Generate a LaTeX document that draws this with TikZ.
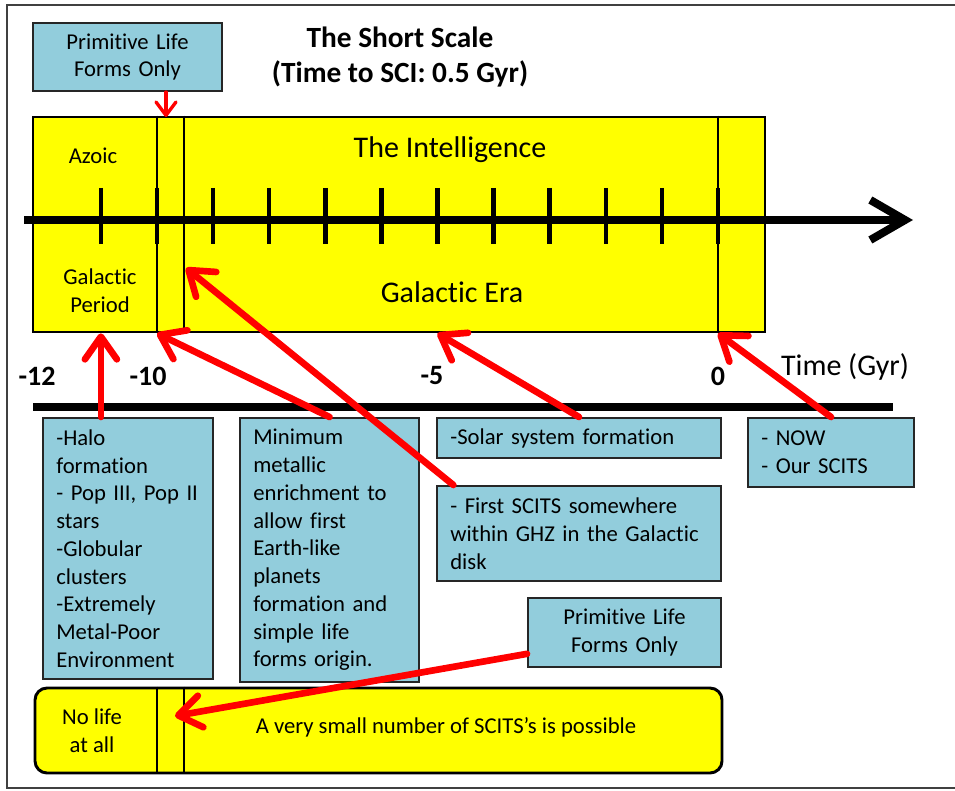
\documentclass[tikz,border=0pt]{standalone}
\usepackage{fontspec}
\setmainfont{Carlito}[Ligatures=NoCommon]
\usepackage{tikz}
\usetikzlibrary{arrows.meta, positioning}
\definecolor{infoblue}{RGB}{146,205,220}
\definecolor{erayellow}{RGB}{255,255,0}
\tikzset{
    frame/.style={
        draw=black!75,
        line width=1.5pt
    },
    era/.style={
        rectangle,
        draw=black,
        line width=2pt,
        fill=erayellow,
        inner sep=0pt
    },
    divider/.style={
        draw=black,
        line width=0.8pt
    },
    info/.style={
        rectangle,
        draw=black!85,
        line width=1.5pt,
        fill=infoblue,
        inner xsep=10pt,
        inner ysep=0pt,
        align=left,
        font=\fontsize{17}{20.8}\selectfont
    },
    axis/.style={
        draw=black,
        line width=6pt,
        -{Straight Barb[length=26pt, width=30pt]}
    },
    tickmark/.style={
        draw=black,
        line width=3.4pt
    },
    barline/.style={
        draw=black,
        line width=5.5pt
    },
    hint/.style={
        draw=red,
        line width=5pt,
        line cap=round,
        -{Straight Barb[length=17pt, width=24pt, round]}
    },
    titletext/.style={
        font=\fontsize{22}{26.4}\selectfont\bfseries,
        inner sep=0pt
    },
    bigtext/.style={
        font=\fontsize{22.5}{27}\selectfont,
        inner sep=0pt
    },
    smalltext/.style={
        font=\fontsize{17}{20.8}\selectfont,
        inner sep=0pt
    },
    ticktext/.style={
        font=\fontsize{21}{25}\selectfont\bfseries,
        inner sep=0pt
    }
}

\begin{document}
\begin{tikzpicture}[x=0.75pt, y=-0.75pt, node distance=19.5pt and 10pt]
\useasboundingbox (0,0) rectangle (955,791);
\draw[frame] (960,5) -- (7,5) -- (7,788) -- (960,788);

\node[titletext, align=center] (title) at (400,57) {The Short Scale\\(Time to SCI: 0.5 Gyr)};
\node[info, align=center, text width=121.75pt, minimum height=51pt] (prim1) at (127.5,57) {Primitive Life\\Forms Only};

\node[era, minimum width=549pt, minimum height=161.25pt] (scale) at (399,224.5) {};
\coordinate (m10) at (157,220);
\coordinate (m95) at (184,220);
\coordinate (m0) at (718,220);
\draw[divider] (scale.north -| m10) -- (scale.south -| m10);
\draw[divider] (scale.north -| m95) -- (scale.south -| m95);
\draw[divider] (scale.north -| m0) -- (scale.south -| m0);

\node[smalltext] (azoic) at (93,156) {Azoic};
\node[smalltext, align=center] (gper) at (100,291) {Galactic\\Period};
\node[bigtext] (intel) at (450,150) {The Intelligence};
\node[bigtext] (gera) at (452,292) {Galactic Era};

\coordinate (axstart) at (24,220);
\coordinate (axend) at (913,220);
\draw[axis] (axstart) -- (axend);
\foreach \i in {0,...,11}
    \draw[tickmark] ({718-56.1*\i},188) coordinate (k\i) -- ++(0,56);

\node[ticktext] (n12) at (37,376) {-12};
\node[ticktext] (n10) at (148,376) {-10};
\node[ticktext] (n5) at (432,376) {-5};
\node[ticktext] (n0) at (718,376) {0};
\node[bigtext] (time) at (845,367) {Time (Gyr)};

\coordinate (barstart) at (33,407);
\coordinate (barend) at (893,407);
\draw[barline] (barstart) -- (barend);

\node[info, anchor=north west, text width=107.5pt, minimum height=195.75pt] (halo) at (42,417) {-Halo\\formation\\- Pop III, Pop II\\stars\\-Globular\\clusters\\-Extremely\\Metal-Poor\\Environment};
\node[info, anchor=north west, text width=114.25pt, minimum height=198pt] (minim) at (239,417) {Minimum\\metallic\\enrichment to\\allow first\\Earth-like\\planets\\formation and\\simple life\\forms origin.};
\node[info, anchor=north west, text width=193pt, minimum height=30pt] (solar) at (436,417) {-Solar system formation};
\node[info, text width=193pt, minimum height=71.25pt, below=of solar] (first) {- First SCITS somewhere\\within GHZ in the Galactic\\disk};
\node[info, anchor=north west, text width=104.5pt, minimum height=51.75pt] (now) at (747,417) {- NOW\\- Our SCITS};
\node[info, align=center, text width=124.75pt, minimum height=51.75pt, below left=11.25pt and 0pt of first.south east] (prim2) {Primitive Life\\Forms Only};

\node[era, rounded corners=9pt, line width=2.2pt, minimum width=515.25pt, minimum height=63.75pt] (life) at (378.5,730.5) {};
\draw[divider] (life.north -| m10) -- (life.south -| m10);
\draw[divider] (life.north -| m95) -- (life.south -| m95);
\node[smalltext, align=center] (nolife) at (92,731) {No life\\at all};
\node[smalltext] (few) at (446,727) {A very small number of SCITS’s is possible};

\coordinate (tc) at (186,268);
\coordinate (tf) at (175,716);
\coordinate (pl) at (166,117);
\draw[hint] (halo.north -| k11) -- (scale.south -| k11);
\draw[hint] (minim.north) -- (scale.south -| m10);
\draw[hint] ([xshift=13pt]first.north west) -- (tc);
\draw[hint] (solar.north) -- (scale.south -| k5);
\draw[hint] (now.north) -- (scale.south -| k0);
\draw[hint] ([yshift=-16pt]prim2.west) -- (tf);
\draw[hint, line width=2.5pt, -{Straight Barb[length=10pt, width=15pt, round]}] (prim1.south -| pl) -- (pl);

\end{tikzpicture}
\end{document}
